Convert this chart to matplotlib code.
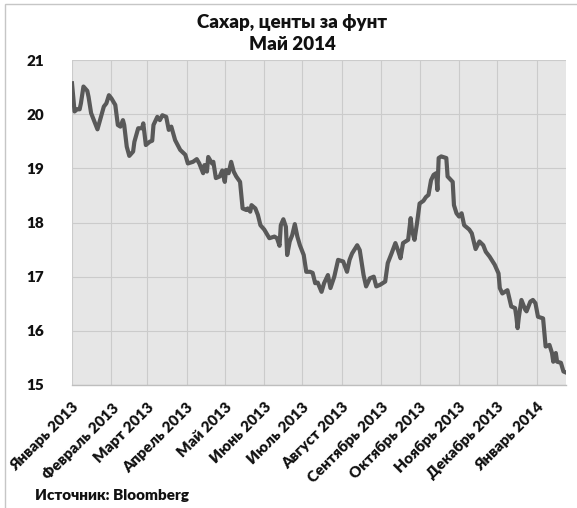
import numpy as np
import pandas as pd
import matplotlib
matplotlib.use("Agg")
import matplotlib.pyplot as plt
import matplotlib.dates as mdates
from matplotlib.patches import Rectangle

# Sugar price, US cents per pound
dates = [
    "2013-01-01", "2013-01-03", "2013-01-05", "2013-01-07", "2013-01-08", "2013-01-10",
    "2013-01-13", "2013-01-14", "2013-01-16", "2013-01-21", "2013-01-23", "2013-01-26",
    "2013-01-28", "2013-01-30", "2013-02-01", "2013-02-04", "2013-02-06", "2013-02-08",
    "2013-02-10", "2013-02-11", "2013-02-13", "2013-02-15", "2013-02-18", "2013-02-19",
    "2013-02-22", "2013-02-25", "2013-02-26", "2013-02-28", "2013-03-03", "2013-03-05",
    "2013-03-06", "2013-03-09", "2013-03-11", "2013-03-13", "2013-03-16", "2013-03-18",
    "2013-03-20", "2013-03-23", "2013-03-27", "2013-03-31", "2013-04-02", "2013-04-06",
    "2013-04-09", "2013-04-11", "2013-04-14", "2013-04-15", "2013-04-17", "2013-04-18",
    "2013-04-21", "2013-04-22", "2013-04-24", "2013-04-27", "2013-04-29", "2013-05-01",
    "2013-05-02", "2013-05-04", "2013-05-06", "2013-05-08", "2013-05-10", "2013-05-13",
    "2013-05-15", "2013-05-18", "2013-05-19", "2013-05-21", "2013-05-22", "2013-05-25",
    "2013-05-27", "2013-05-29", "2013-06-01", "2013-06-05", "2013-06-09", "2013-06-11",
    "2013-06-13", "2013-06-14", "2013-06-16", "2013-06-18", "2013-06-19", "2013-06-21",
    "2013-06-23", "2013-06-25", "2013-06-27", "2013-06-29", "2013-07-02", "2013-07-04",
    "2013-07-07", "2013-07-09", "2013-07-11", "2013-07-13", "2013-07-16", "2013-07-18",
    "2013-07-21", "2013-07-23", "2013-07-26", "2013-07-29", "2013-08-02", "2013-08-05",
    "2013-08-07", "2013-08-09", "2013-08-13", "2013-08-15", "2013-08-18", "2013-08-20",
    "2013-08-23", "2013-08-26", "2013-08-28", "2013-08-31", "2013-09-04", "2013-09-06",
    "2013-09-09", "2013-09-12", "2013-09-14", "2013-09-16", "2013-09-18", "2013-09-22",
    "2013-09-24", "2013-09-25", "2013-09-27", "2013-09-29", "2013-10-01", "2013-10-04",
    "2013-10-06", "2013-10-08", "2013-10-10", "2013-10-12", "2013-10-14", "2013-10-15",
    "2013-10-16", "2013-10-18", "2013-10-22", "2013-10-23", "2013-10-27", "2013-10-28",
    "2013-10-30", "2013-11-01", "2013-11-03", "2013-11-05", "2013-11-09", "2013-11-11",
    "2013-11-14", "2013-11-17", "2013-11-20", "2013-11-22", "2013-11-25", "2013-11-29",
    "2013-12-02", "2013-12-03", "2013-12-05", "2013-12-09", "2013-12-12", "2013-12-15",
    "2013-12-16", "2013-12-17", "2013-12-18", "2013-12-20", "2013-12-23", "2013-12-24",
    "2013-12-27", "2013-12-29", "2013-12-31", "2014-01-02", "2014-01-06", "2014-01-08",
    "2014-01-11", "2014-01-13", "2014-01-14", "2014-01-16", "2014-01-17", "2014-01-20",
    "2014-01-22", "2014-01-24",
]
prices = [
    20.57, 20.05, 20.09, 20.09, 20.20, 20.51,
    20.43, 20.32, 20.02, 19.72, 19.89, 20.14,
    20.20, 20.35, 20.29, 20.17, 19.80, 19.77,
    19.89, 19.80, 19.40, 19.23, 19.31, 19.49,
    19.74, 19.74, 19.83, 19.43, 19.49, 19.51,
    19.80, 19.95, 19.89, 19.98, 19.95, 19.71,
    19.77, 19.52, 19.34, 19.25, 19.09, 19.12,
    19.17, 19.09, 18.91, 19.06, 18.94, 19.21,
    19.09, 19.12, 18.82, 18.85, 18.96, 18.75,
    18.97, 18.91, 19.12, 18.94, 18.85, 18.75,
    18.26, 18.23, 18.26, 18.20, 18.32, 18.26,
    18.14, 17.95, 17.87, 17.71, 17.74, 17.71,
    17.57, 17.95, 18.06, 17.92, 17.40, 17.65,
    17.77, 17.97, 17.74, 17.58, 17.40, 17.09,
    17.09, 17.07, 16.88, 16.89, 16.72, 16.88,
    17.03, 16.79, 17.00, 17.31, 17.28, 17.09,
    17.31, 17.43, 17.58, 17.49, 17.03, 16.82,
    16.97, 17.00, 16.82, 16.85, 16.91, 17.25,
    17.43, 17.62, 17.49, 17.34, 17.62, 17.68,
    18.08, 17.86, 17.68, 17.99, 18.35, 18.40,
    18.47, 18.51, 18.78, 18.88, 18.91, 18.60,
    19.19, 19.22, 19.19, 18.85, 18.75, 18.32,
    18.17, 18.11, 18.17, 17.95, 17.87, 17.80,
    17.51, 17.65, 17.58, 17.46, 17.37, 17.22,
    17.06, 16.79, 16.69, 16.75, 16.45, 16.42,
    16.26, 16.05, 16.26, 16.57, 16.39, 16.36,
    16.54, 16.57, 16.51, 16.26, 16.23, 15.71,
    15.74, 15.59, 15.43, 15.59, 15.43, 15.41,
    15.25, 15.23,
]

month_labels = [
    "Январь 2013", "Февраль 2013", "Март 2013", "Апрель 2013", "Май 2013",
    "Июнь 2013", "Июль 2013", "Август 2013", "Сентябрь 2013", "Октябрь 2013",
    "Ноябрь 2013", "Декабрь 2013", "Январь 2014",
]
y_ticks = [15, 16, 17, 18, 19, 20, 21]
title_lines = ["Сахар, центы за фунт", "Май 2014"]
source_text = "Источник: Bloomberg"

plt.rcParams["font.family"] = ["Lato", "DejaVu Sans"]
plt.rcParams["font.weight"] = "heavy"
plt.rcParams["text.color"] = "#111111"
plt.rcParams["xtick.color"] = "#111111"
plt.rcParams["ytick.color"] = "#111111"

x = pd.to_datetime(dates)
month_ticks = pd.date_range("2013-01-01", periods=len(month_labels), freq="MS")

fig = plt.figure(figsize=(5.77, 5.08), dpi=100)
fig.patches.append(Rectangle((5 / 577, -0.1), 1.2, 1.1 - 4 / 508, transform=fig.transFigure,
                             fill=False, edgecolor="#C6C6C6", linewidth=1))

ax = fig.add_axes([72 / 577, 1 - 385 / 508, 494 / 577, 325 / 508])
ax.set_facecolor("#E6E6E6")
ax.plot(x, prices, color="#595959", linewidth=3.0, solid_joinstyle="round", zorder=3)

ax.set_xlim(x[0], x[-1])
ax.set_ylim(15, 21)
ax.set_yticks(y_ticks)
ax.set_xticks(month_ticks)
ax.set_xticklabels(month_labels, rotation=45, ha="right", va="top",
                   rotation_mode="anchor", fontsize=11, fontweight="heavy")
ax.tick_params(axis="y", length=0, pad=20, labelsize=11)
ax.tick_params(axis="x", length=0, pad=11)
ax.grid(True, color="#CBCBCB", linewidth=0.8)
ax.set_axisbelow(True)
for side in ["left", "top", "right"]:
    ax.spines[side].set_visible(False)
ax.spines["bottom"].set_color("#BEBEBE")
ax.spines["bottom"].set_linewidth(1)

fig.text(0.506, 1 - 28 / 508, title_lines[0], ha="center", va="baseline", fontsize=13.5, fontweight="heavy")
fig.text(0.506, 1 - 50 / 508, title_lines[1], ha="center", va="baseline", fontsize=13.5, fontweight="heavy")
fig.text(35 / 577, 1 - 500 / 508, source_text, ha="left", va="baseline", fontsize=11, fontweight="heavy")

fig.savefig("out.png", dpi=100)
